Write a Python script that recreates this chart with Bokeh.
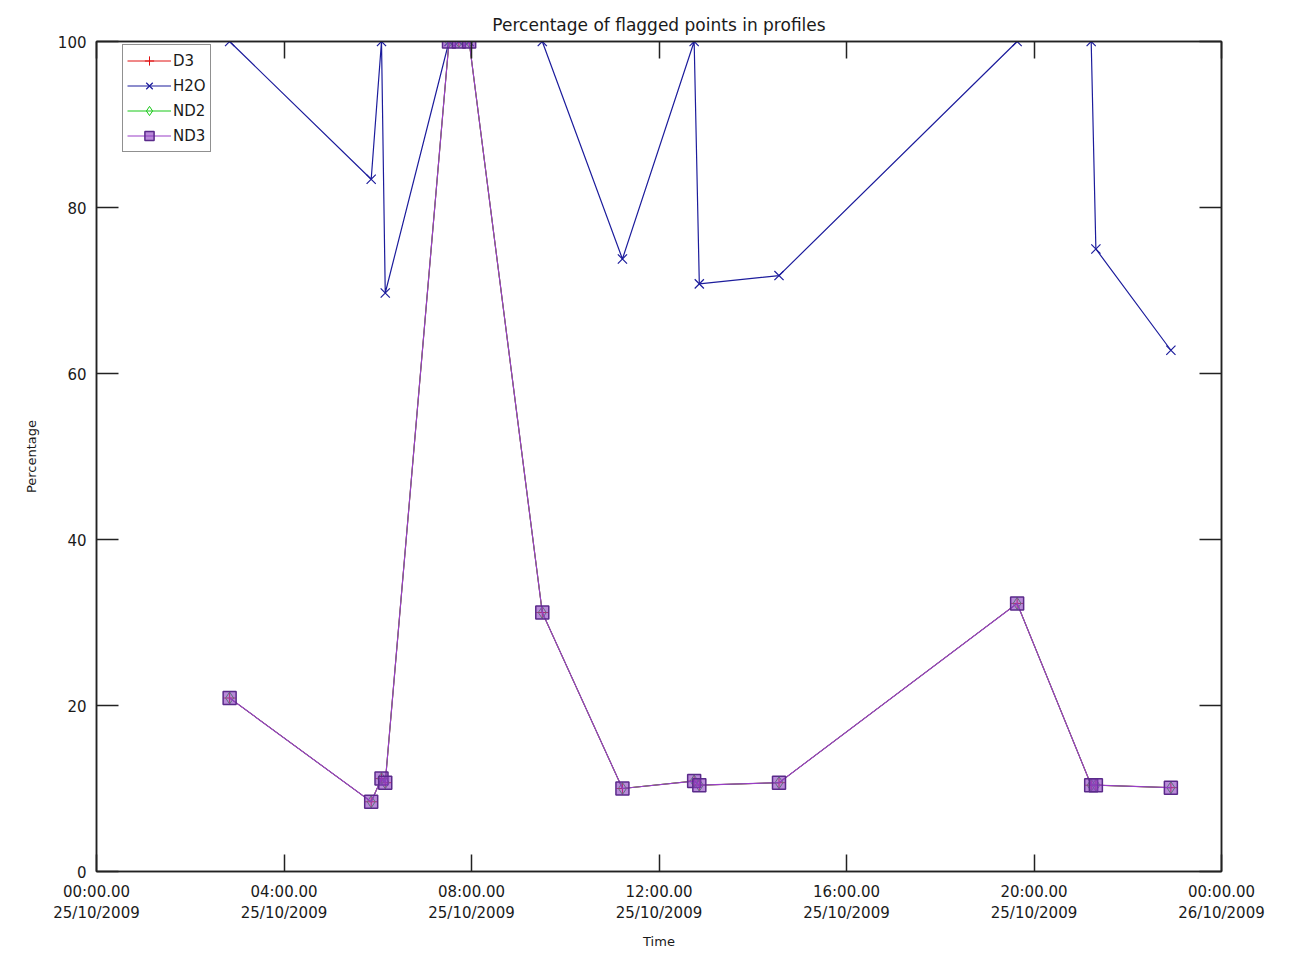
from bokeh.plotting import figure
from bokeh.models import LinearAxis, FixedTicker, Range1d, Legend, LegendItem
from bokeh.embed import file_html
from bokeh.resources import INLINE

# ---- data (hours since 00:00 25/10/2009) ----
hours = [2.84, 5.86, 6.08, 6.16, 7.52, 7.73, 7.95, 9.51, 11.22, 12.75, 12.86, 14.56, 19.64, 21.22, 21.32, 22.92]
h2o = [100, 83.4, 100, 69.7, 100, 100, 100, 100, 73.8, 100, 70.8, 71.8, 100, 100, 75.0, 62.8]
d3 = [20.9, 8.4, 11.2, 10.7, 100, 100, 100, 31.2, 10.0, 10.9, 10.4, 10.7, 32.3, 10.4, 10.4, 10.1]
nd2 = [20.9, 8.4, 11.2, 10.7, 100, 100, 100, 31.2, 10.0, 10.9, 10.4, 10.7, 32.3, 10.4, 10.4, 10.1]
nd3 = [20.9, 8.4, 11.2, 10.7, 100, 100, 100, 31.2, 10.0, 10.9, 10.4, 10.7, 32.3, 10.4, 10.4, 10.1]

x_ticks = [0, 4, 8, 12, 16, 20, 24]
x_tick_labels = ["00:00.00\n25/10/2009", "04:00.00\n25/10/2009", "08:00.00\n25/10/2009",
                 "12:00.00\n25/10/2009", "16:00.00\n25/10/2009", "20:00.00\n25/10/2009",
                 "00:00.00\n26/10/2009"]
y_ticks = [0, 20, 40, 60, 80, 100]

FONT = "DejaVu Sans"
TXT = "#1a1a1a"

p = figure(width=1277, height=952, x_range=Range1d(0, 24), y_range=Range1d(0, 100),
           output_backend="svg", toolbar_location=None,
           title="Percentage of flagged points in profiles",
           min_border_left=96, min_border_right=56, min_border_top=41, min_border_bottom=81)
p.title.align = "center"
p.title.text_font = FONT
p.title.text_font_size = "17px"
p.title.text_font_style = "normal"
p.title.text_color = TXT
p.title.standoff = 14
p.grid.visible = False
p.outline_line_color = "#222222"
p.outline_line_width = 1.5
p.background_fill_color = "white"
p.border_fill_color = "white"

# bottom axis
xa = p.xaxis[0]
xa.ticker = FixedTicker(ticks=x_ticks)
xa.major_label_overrides = {t: l for t, l in zip(x_ticks, x_tick_labels)}
xa.axis_label = "Time"
# left axis
ya = p.yaxis[0]
ya.ticker = FixedTicker(ticks=y_ticks)
ya.axis_label = "Percentage"

for ax, tin in ((xa, 17), (ya, 22)):
    ax.major_tick_in = tin
    ax.major_tick_out = 0
    ax.minor_tick_line_color = None
    ax.axis_line_color = "#222222"
    ax.axis_line_width = 1.5
    ax.major_tick_line_color = "#222222"
    ax.major_tick_line_width = 1.5
    ax.major_label_text_font = FONT
    ax.major_label_text_font_size = "15px"
    ax.major_label_text_color = TXT
    ax.axis_label_text_font = FONT
    ax.axis_label_text_font_size = "13px"
    ax.axis_label_text_font_style = "normal"
    ax.axis_label_text_color = TXT
xa.major_label_standoff = 11
xa.axis_label_standoff = 9
ya.major_label_standoff = 10
ya.axis_label_standoff = 16

# box axes (ticks only)
top = LinearAxis(ticker=FixedTicker(ticks=x_ticks), major_label_overrides={t: "" for t in x_ticks})
right = LinearAxis(ticker=FixedTicker(ticks=y_ticks), major_label_overrides={t: "" for t in y_ticks})
for ax, tin in ((top, 17), (right, 22)):
    ax.major_tick_in = tin
    ax.major_tick_out = 0
    ax.minor_tick_line_color = None
    ax.axis_line_color = "#222222"
    ax.axis_line_width = 1.5
    ax.major_tick_line_color = "#222222"
    ax.major_tick_line_width = 1.5
    ax.major_label_standoff = 0
    ax.major_label_text_font_size = "1px"
p.add_layout(top, "above")
p.add_layout(right, "right")

# series
RED = "#e01010"
BLUE = "#1c1c9c"
GREEN = "#18c818"
PURPLE = "#9a3ec8"

r_d3l = p.line(hours, d3, color=RED, line_width=1)
r_d3m = p.scatter(hours, d3, marker="cross", size=12, line_color=RED, line_width=1)
r_h2ol = p.line(hours, h2o, color=BLUE, line_width=1.2)
r_h2om = p.scatter(hours, h2o, marker="x", size=13, line_color=BLUE, line_width=1.2)
r_nd2l = p.line(hours, nd2, color=GREEN, line_width=1)
r_nd2m = p.scatter(hours, nd2, marker="diamond", size=12, line_color=GREEN, fill_color=None, line_width=1)
r_nd3l = p.line(hours, nd3, color=PURPLE, line_width=1.2)
r_nd3m = p.scatter(hours, nd3, marker="square", size=13, line_color="#5a2a8a", fill_color="#8a3cc0",
                   fill_alpha=0.6, line_width=1.5)

legend = Legend(items=[
    LegendItem(label="D3", renderers=[r_d3l, r_d3m]),
    LegendItem(label="H2O", renderers=[r_h2ol, r_h2om]),
    LegendItem(label="ND2", renderers=[r_nd2l, r_nd2m]),
    LegendItem(label="ND3", renderers=[r_nd3l, r_nd3m]),
], location=(26, 719))
legend.margin = 0
legend.padding = 4
legend.spacing = 2
legend.glyph_width = 44
legend.glyph_height = 23
legend.label_height = 23
legend.label_standoff = 2
legend.label_text_font = FONT
legend.label_text_font_size = "15px"
legend.label_text_color = TXT
legend.border_line_color = "#222222"
legend.border_line_width = 1.2
legend.background_fill_color = "white"
legend.background_fill_alpha = 1.0
p.add_layout(legend)

open("out.html", "w").write(file_html(p, INLINE))
